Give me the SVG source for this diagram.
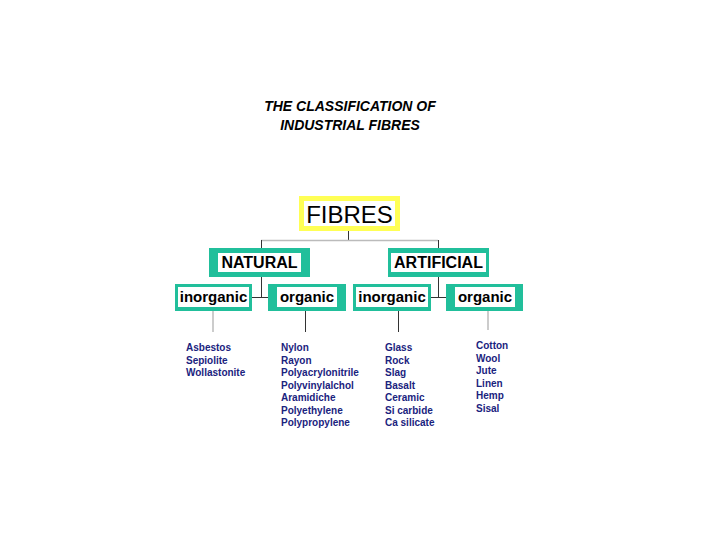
<svg xmlns="http://www.w3.org/2000/svg" width="720" height="540" viewBox="0 0 720 540">
<style>
.g{fill:#21bf9b}
.w{fill:#ffffff}
.lbl{font-family:"Liberation Sans",Arial,sans-serif;font-weight:bold;fill:#000;text-anchor:middle}
.item{font-family:"Liberation Sans",Arial,sans-serif;font-weight:bold;font-size:10px;fill:#1a237e}
.dk{stroke:#333;stroke-width:1;fill:none}
.lt{stroke:#bbb;stroke-width:1.5;fill:none}
</style>
<rect width="720" height="540" fill="#fff"/>
<g id="title">
<text x="350" y="111" class="lbl" font-size="14" font-style="italic">THE CLASSIFICATION OF</text>
<text x="350" y="130" class="lbl" font-size="14" font-style="italic">INDUSTRIAL FIBRES</text>
</g>
<g id="connectors">
<line x1="348.5" y1="231" x2="348.5" y2="241" class="dk"/>
<line x1="261" y1="240.5" x2="438" y2="240.5" class="lt"/>
<line x1="261.5" y1="240" x2="261.5" y2="249" class="dk"/>
<line x1="438.5" y1="240" x2="438.5" y2="249" class="dk"/>
<line x1="261.5" y1="276" x2="261.5" y2="297" class="dk"/>
<line x1="251" y1="297.5" x2="269" y2="297.5" class="dk"/>
<line x1="438.5" y1="276" x2="438.5" y2="297" class="dk"/>
<line x1="430" y1="297.5" x2="447" y2="297.5" class="dk"/>
<line x1="213" y1="311" x2="213" y2="332" class="lt"/>
<line x1="305.5" y1="311" x2="305.5" y2="332" class="dk"/>
<line x1="398.5" y1="311" x2="398.5" y2="332" class="dk" stroke="#666"/>
<line x1="488" y1="311" x2="488" y2="330" class="lt"/>
</g>
<g id="fibres">
<rect x="299" y="196" width="101" height="35" fill="#ffff55"/>
<rect x="304" y="201" width="91" height="25" class="w"/>
<text x="349.5" y="222.5" class="lbl" font-size="24" font-weight="normal" style="font-weight:normal">FIBRES</text>
</g>
<g id="natural">
<rect x="209" y="248" width="101" height="29" class="g"/>
<rect x="218" y="253" width="83" height="19" class="w"/>
<text x="259.5" y="268" class="lbl" font-size="16">NATURAL</text>
</g>
<g id="artificial">
<rect x="388" y="248" width="101" height="29" class="g"/>
<rect x="391" y="253" width="95" height="19" class="w"/>
<text x="438.5" y="268" class="lbl" font-size="16">ARTIFICIAL</text>
</g>
<g id="inorganic1">
<rect x="175" y="284" width="77" height="27" class="g"/>
<rect x="178" y="287" width="71" height="20" class="w"/>
<text x="213.5" y="302" class="lbl" font-size="15">inorganic</text>
</g>
<g id="organic1">
<rect x="268" y="284" width="78" height="27" class="g"/>
<rect x="277" y="287" width="60" height="20" class="w"/>
<text x="307" y="302" class="lbl" font-size="15">organic</text>
</g>
<g id="inorganic2">
<rect x="353" y="284" width="78" height="27" class="g"/>
<rect x="356" y="287" width="72" height="20" class="w"/>
<text x="392" y="302" class="lbl" font-size="15">inorganic</text>
</g>
<g id="organic2">
<rect x="446" y="284" width="77" height="27" class="g"/>
<rect x="455" y="287" width="60" height="20" class="w"/>
<text x="485" y="302" class="lbl" font-size="15">organic</text>
</g>
<g id="list1">
<text x="186" y="351" class="item">Asbestos</text>
<text x="186" y="363.5" class="item">Sepiolite</text>
<text x="186" y="376" class="item">Wollastonite</text>
</g>
<g id="list2">
<text x="281" y="351" class="item">Nylon</text>
<text x="281" y="363.5" class="item">Rayon</text>
<text x="281" y="376" class="item">Polyacrylonitrile</text>
<text x="281" y="388.5" class="item">Polyvinylalchol</text>
<text x="281" y="401" class="item">Aramidiche</text>
<text x="281" y="413.5" class="item">Polyethylene</text>
<text x="281" y="426" class="item">Polypropylene</text>
</g>
<g id="list3">
<text x="385" y="351" class="item">Glass</text>
<text x="385" y="363.5" class="item">Rock</text>
<text x="385" y="376" class="item">Slag</text>
<text x="385" y="388.5" class="item">Basalt</text>
<text x="385" y="401" class="item">Ceramic</text>
<text x="385" y="413.5" class="item">Si carbide</text>
<text x="385" y="426" class="item">Ca silicate</text>
</g>
<g id="list4">
<text x="476" y="349" class="item">Cotton</text>
<text x="476" y="361.5" class="item">Wool</text>
<text x="476" y="374" class="item">Jute</text>
<text x="476" y="386.5" class="item">Linen</text>
<text x="476" y="399" class="item">Hemp</text>
<text x="476" y="411.5" class="item">Sisal</text>
</g>
</svg>
